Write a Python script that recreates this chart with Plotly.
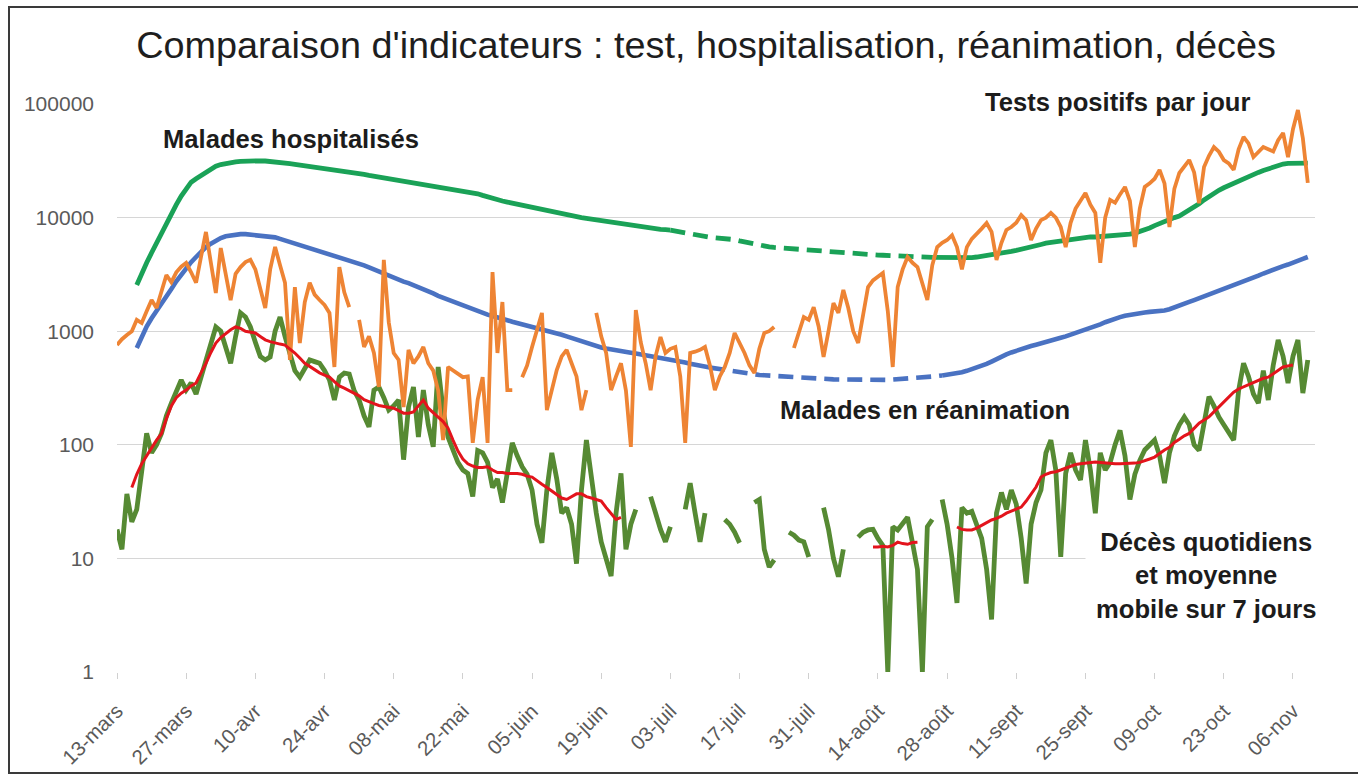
import pandas as pd
import plotly.graph_objects as go

# ---------------------------------------------------------------- data
# Daily series, France 2020 (first value on the given start date)

TESTS_START = "2020-03-13"
tests_positifs = [
    756, 850, 926, 1000, 1260, 1180, 1500, 1880, 1600, 2300,
    3125, 2700, 3300, 3700, 3990, 3300, 2670, 4500, 7470, 4000,
    2170, 5400, 3300, 1880, 3200, 3670, 4060, 4250, 3500, 2400,
    1600, 3500, 5510, 3800, 2670, 558, 2440, 787, 1800, 2670,
    2100, 1880, 1700, 1450, 484, 3670, 2200, 1630, None, 1260,
    726, 900, 643, 323, 4240, 1200, 643, 558, 215, 685,
    522, 600, 726, 522, 450, 300, 110, 484, 450, 428,
    394, 400, 104, 250, 394, 104, 3320, 643, 1807, 303,
    303, None, 394, 500, 726, 1000, 1448, 202, 300, 455,
    600, 685, 522, 400, 202, 303, None, 1448, 900, 643,
    303, 400, 522, 300, 96, 1537, 800, 522, 303, 600,
    889, 643, 700, 726, 400, 104, 643, 660, 685, 726,
    500, 303, 400, 484, 643, 964, 800, 643, 500, 428,
    700, 964, 1000, 1089, None, None, None, 711, 1000, 1334,
    1260, 1630, 1100, 593, 1000, 1770, 1448, 2307, 1600, 1000,
    787, 1400, 2450, 2800, 3000, 3250, 1500, 484, 2450, 3500,
    4500, 4000, 3670, 2600, 1880, 3800, 5510, 6000, 6350, 7000,
    5500, 3500, 5500, 6500, 7310, 8000, 8960, 7500, 4240, 6000,
    7780, 8260, 9000, 10540, 9500, 6350, 8000, 9500, 10000, 11000,
    10000, 8260, 5510, 9000, 12000, 14300, 16500, 13000, 11000, 4000,
    10000, 14300, 13500, 16000, 18600, 14000, 5510, 12000, 18600, 20000,
    22000, 26300, 20000, 8260, 18000, 24700, 28000, 32100, 25000, 13400,
    27900, 35000, 41800, 38000, 32100, 30000, 26300, 40000, 51200, 45000,
    34100, 38000, 41800, 40000, 38200, 48000, 55600, 34100, 60000, 88500,
    50000, 20200,
]

DECES_START = "2020-03-13"
deces_quotidiens = [
    18, 12, 37, 21, 27, 60, 126, 85, 100, 126,
    180, 233, 300, 372, 303, 350, 280, 400, 558, 800,
    1090, 1000, 700, 522, 900, 1450, 1334, 1090, 800, 600,
    558, 594, 1000, 1334, 900, 643, 450, 394, 480, 558,
    540, 522, 450, 372, 248, 394, 428, 420, 300, 248,
    180, 144, 303, 323, 260, 202, 220, 248, 74, 215,
    323, 117, 303, 150, 96, 484, 200, 117, 90, 70,
    60, 56, 35, 89, 85, 70, 42, 50, 31, 60,
    104, 80, 64, 55, 40, 20, 13.7, 40, 85, 50,
    25, 28, 20, 9, 40, 110, 50, 25, 14, 10,
    7, 25, 56, 12, 20, 27, None, None, 35, 25,
    18, 14, 19, None, None, 27, 46, 25, 14, 25,
    None, None, None, 22, 20, 17, 13.7, None, None, 31,
    33, 12, 8.4, 9.7, None, None, 17, 16, 14.5, 14,
    10.3, None, None, 28, 18, 10, 6.9, 12, None, None,
    15.4, 17, 17.8, 18, 15, 13, 1, 19, 17.8, 20,
    23, 13.7, 8, 1, 19, 22, None, 33, 20, 10,
    4.05, 28, 25, 26, 20, 15, 8, 2.9, 25, 38,
    27, 40, 30, 15, 6, 20, 31, 40, 85, 110,
    60, 10.3, 56, 85, 60, 49, 110, 60, 25, 85,
    60, 70, 100, 134, 80, 33, 55, 73, 90, 100,
    110, 80, 46, 85, 120, 150, 176, 150, 100, 89.5,
    150, 265, 220, 176, 150, 130, 110, 300, 522, 400,
    280, 233, 450, 248, 500, 837, 600, 350, 600, 837,
    285, 558,
]

# 7-day moving average of deaths, three published stretches
MM_PRINTEMPS_START = "2020-03-16"
mm_printemps = [
    42, 55, 68, 80, 95, 110, 125, 170, 220, 260,
    285, 303, 330, 350, 430, 520, 650, 787, 880, 960,
    1030, 1090, 1060, 1000, 980, 964, 900, 840, 810, 787,
    770, 755, 700, 643, 580, 522, 490, 455, 430, 410,
    394, 360, 330, 315, 300, 285, 270, 250, 238, 230,
    222, 218, 215, 210, 200, 190, 190, 195, 220, 248,
    210, 190, 175, 160, 140, 110, 88, 75, 68, 65,
    63, 63, 64, 60, 57, 57, 56, 56, 56, 55,
    53, 52, 48, 45, 42, 39, 36, 34, 33, 35,
    37, 37, 35, 34, 33, 32, 28, 25, 22, 23,
]
MM_AOUT_START = "2020-08-13"
mm_aout = [12.6, 12.6, 12.8, 12.6, 13, 13.9, 13.5, 13.3, 13.8, 13.9]
MM_AUTOMNE_START = "2020-08-30"
mm_automne = [
    18.9, 18, 17.8, 17.8, 18.5, 19.5, 20.5, 21.8, 22.5, 23.5,
    25, 26, 27, 28.3, 32, 37, 42.5, 52, 55, 57,
    58, 60, 62, 65, 67, 68, 69, 70, 70.6, 70,
    69, 69, 68, 68, 68, 69, 69, 70, 72, 75,
    78, 84, 90, 95, 105, 112, 120, 126, 140, 155,
    165, 176, 195, 215, 240, 265, 290, 310, 323, 340,
    355, 370, 385, 394, 420, 450, 484, 495, 505,
]

# Patients in hospital: daily counts, then weekday-only reporting (dashed), then daily again
HOSP_A_START = "2020-03-17"
hosp_a = [
    2550, 3300, 4000, 4900, 6000, 7300, 9000, 10800, 13000, 15500,
    18000, 20500, 22000, 23500, 25500, 27000, 28300, 29300, 30000, 30500,
    31000, 31300, 31500, 31600, 31700, 31600, 31500, 31300, 31000, 30600,
    30200, 29800, 29400, 29000, 28600, 28200, 27900, 27600, 27300, 26800,
    26400, 26000, 25600, 25200, 24800, 24400, 24000, 23500, 23100, 22700,
    22300, 21900, 21600, 21300, 21000, 20700, 20400, 20100, 19800, 19500,
    19100, 18800, 18400, 18000, 17600, 17300, 17000, 16700, 16500, 16200,
    15700, 15200, 14700, 14300, 14000, 13700, 13400, 13100, 12800, 12500,
    12300, 12100, 11900, 11600, 11300, 11000, 10800, 10600, 10400, 10200,
    10000, 9850, 9700, 9550, 9400, 9250, 9100, 8950, 8800, 8650,
    8500, 8350, 8250, 8150, 8050, 7950, 7880, 7820, 7760,
]
HOSP_B_START = "2020-07-03"
hosp_b = [
    7760, 7600, 7450, 7300, 7150, 7000, 6880, 6780, 6700, 6650,
    6600, 6550, 6500, 6400, 6250, 6100, 5950, 5800, 5700, 5600,
    5520, 5460, 5420, 5380, 5340, 5280, 5220, 5160, 5100, 5050,
    5000, 4970, 4940, 4910, 4880, 4850, 4820, 4790, 4760, 4740,
    4720, 4700, 4680, 4660, 4640, 4620, 4600, 4580, 4560, 4540,
    4520, 4500, 4480, 4460,
]
HOSP_C_START = "2020-08-25"
hosp_c = [
    4460, 4450, 4440, 4430, 4420, 4410, 4410, 4420, 4450, 4500,
    4560, 4630, 4700, 4780, 4860, 4950, 5050, 5150, 5250, 5350,
    5500, 5650, 5800, 5950, 6050, 6150, 6250, 6350, 6450, 6550,
    6650, 6700, 6750, 6750, 6800, 6800, 6850, 6900, 6950, 7050,
    7150, 7300, 7500, 7750, 8100, 8500, 8900, 9300, 9700, 10000,
    10300, 10900, 11600, 12300, 13200, 14300, 15400, 16500, 17400, 18300,
    19200, 20100, 21000, 22000, 23000, 24000, 25000, 26000, 27000, 28000,
    29000, 29600, 30000, 30200, 30300, 30300, 30200,
]

# Patients in intensive care, same three reporting periods
REA_A_START = "2020-03-17"
rea_a = [
    711, 900, 1100, 1300, 1500, 1700, 2000, 2350, 2750, 3150,
    3600, 4050, 4500, 5000, 5500, 5900, 6300, 6600, 6850, 7000,
    7100, 7150, 7150, 7100, 7050, 7000, 6950, 6850, 6700, 6500,
    6300, 6150, 6000, 5800, 5600, 5400, 5200, 5050, 4900, 4750,
    4600, 4500, 4350, 4200, 4100, 3950, 3800, 3650, 3500, 3350,
    3200, 3050, 2950, 2830, 2730, 2650, 2550, 2450, 2350, 2250,
    2150, 2050, 1970, 1900, 1820, 1750, 1680, 1620, 1560, 1500,
    1450, 1400, 1360, 1330, 1290, 1250, 1210, 1180, 1150, 1120,
    1090, 1070, 1050, 1020, 990, 960, 930, 900, 870, 840,
    810, 780, 755, 735, 720, 705, 690, 675, 665, 655,
    645, 635, 625, 610, 600, 590, 580, 570, 560, 550,
    540, 530, 518, 505, 495, 485, 478,
]
REA_B_START = "2020-07-11"
rea_b = [
    478, 470, 462, 455, 448, 440, 433, 427, 421, 416,
    412, 409, 406, 403, 400, 398, 395, 393, 391, 389,
    387, 385, 383, 381, 379, 377, 376, 375, 374, 373,
    372, 372, 371, 371, 371, 372, 373, 375, 377, 379,
    381, 384, 387, 391, 395, 399, 403, 408,
]
REA_C_START = "2020-08-27"
rea_c = [
    408, 413, 418, 425, 435, 448, 462, 478, 495, 515,
    540, 570, 600, 625, 650, 675, 700, 720, 740, 760,
    785, 810, 835, 855, 875, 900, 930, 960, 990, 1030,
    1070, 1110, 1150, 1200, 1250, 1290, 1330, 1370, 1400, 1420,
    1440, 1460, 1480, 1490, 1490, 1520, 1560, 1610, 1670, 1740,
    1810, 1880, 1950, 2030, 2100, 2170, 2260, 2350, 2440, 2530,
    2620, 2720, 2830, 2940, 3080, 3220, 3360, 3490, 3620, 3740,
    3860, 3980, 4150, 4330, 4500,
]

# Axis ticks
x_tick_dates = [
    "2020-03-13", "2020-03-27", "2020-04-10", "2020-04-24", "2020-05-08",
    "2020-05-22", "2020-06-05", "2020-06-19", "2020-07-03", "2020-07-17",
    "2020-07-31", "2020-08-14", "2020-08-28", "2020-09-11", "2020-09-25",
    "2020-10-09", "2020-10-23", "2020-11-06",
]
x_tick_labels = [
    "13-mars", "27-mars", "10-avr", "24-avr", "08-mai", "22-mai", "05-juin",
    "19-juin", "03-juil", "17-juil", "31-juil", "14-août", "28-août",
    "11-sept", "25-sept", "09-oct", "23-oct", "06-nov",
]
y_tick_values = [1, 10, 100, 1000, 10000, 100000]
y_tick_labels = ["1", "10", "100", "1000", "10000", "100000"]

# ---------------------------------------------------------------- style
FONT = "Liberation Sans, Arial, sans-serif"
C_HOSP = "#1aa257"
C_REA = "#4a72c2"
C_TESTS = "#ee8434"
C_DECES = "#568a33"
C_MM = "#e3141c"

W, H = 1358, 775
L, R, T, B = 117, 43, 104, 103
PW, PH = W - L - R, H - T - B


def px_x(px):
    return (px - L) / PW


def px_y(py):
    return (H - B - py) / PH


def dates(start, values):
    return pd.date_range(start, periods=len(values), freq="D")


fig = go.Figure()


def add_line(start, values, color, width, dash="solid"):
    fig.add_trace(go.Scatter(
        x=dates(start, values), y=values, mode="lines",
        line=dict(color=color, width=width, dash=dash),
        connectgaps=False, showlegend=False, hoverinfo="x+y",
    ))


DASH = "15px,8px"
add_line(HOSP_A_START, hosp_a, C_HOSP, 4.8)
add_line(HOSP_B_START, hosp_b, C_HOSP, 4.8, DASH)
add_line(HOSP_C_START, hosp_c, C_HOSP, 4.8)
add_line(REA_A_START, rea_a, C_REA, 4.6)
add_line(REA_B_START, rea_b, C_REA, 4.6, DASH)
add_line(REA_C_START, rea_c, C_REA, 4.6)
add_line(DECES_START, deces_quotidiens, C_DECES, 4.8)
add_line(TESTS_START, tests_positifs, C_TESTS, 3.8)
add_line(MM_PRINTEMPS_START, mm_printemps, C_MM, 3)
add_line(MM_AOUT_START, mm_aout, C_MM, 3)
add_line(MM_AUTOMNE_START, mm_automne, C_MM, 3)

label_font = dict(family=FONT, size=25.6, color="#1c1c1c")
annotations = [
    dict(text="<b>Malades hospitalisés</b>", x=px_x(291), y=px_y(139)),
    dict(text="<b>Tests positifs par jour</b>", x=px_x(1118), y=px_y(102),
         bgcolor="white", borderpad=8),
    dict(text="<b>Malades en réanimation</b>", x=px_x(925), y=px_y(410),
         bgcolor="white", borderpad=2),
    dict(text="<b>Décès quotidiens<br>et moyenne<br>mobile sur 7 jours</b>",
         x=px_x(1206), y=px_y(575), bgcolor="white", borderpad=10, align="center"),
]
for a in annotations:
    a.update(xref="paper", yref="paper", xanchor="center", yanchor="middle",
             showarrow=False, font=label_font)

fig.update_layout(
    width=W, height=H,
    margin=dict(l=L, r=R, t=T, b=B, pad=0),
    paper_bgcolor="white", plot_bgcolor="white",
    title=dict(
        text="Comparaison d'indicateurs : test, hospitalisation, réanimation, décès",
        font=dict(family=FONT, size=37.8, color="#1e1e1e"),
        x=706 / W, y=1 - 45 / H, xref="container", yref="container",
        xanchor="center", yanchor="middle",
    ),
    annotations=annotations,
    xaxis=dict(
        type="date", range=["2020-03-13", "2020-11-10 11:00"],
        tickvals=x_tick_dates, ticktext=x_tick_labels, tickangle=-45,
        tickfont=dict(family=FONT, size=20.5, color="#5a5a5a"),
        ticks="outside", ticklen=6, tickcolor="#d0d0d0", tickwidth=1.3,
        ticklabelstandoff=12, automargin=False,
        showgrid=False, zeroline=False, showline=False,
    ),
    yaxis=dict(
        type="log", range=[0, 5],
        tickvals=y_tick_values, ticktext=y_tick_labels,
        tickfont=dict(family=FONT, size=21, color="#5a5a5a"),
        ticks="", ticklabelstandoff=22, automargin=False,
        showgrid=True, gridcolor="#d6d6d6", gridwidth=1.3,
        zeroline=False, showline=False,
    ),
    shapes=[
        dict(type="rect", xref="paper", yref="paper",
             x0=px_x(9), x1=px_x(1362), y0=px_y(773), y1=px_y(7),
             line=dict(color="#3a3a3a", width=2), layer="above"),
    ],
    hovermode="closest",
)

fig.write_html("out.html")
